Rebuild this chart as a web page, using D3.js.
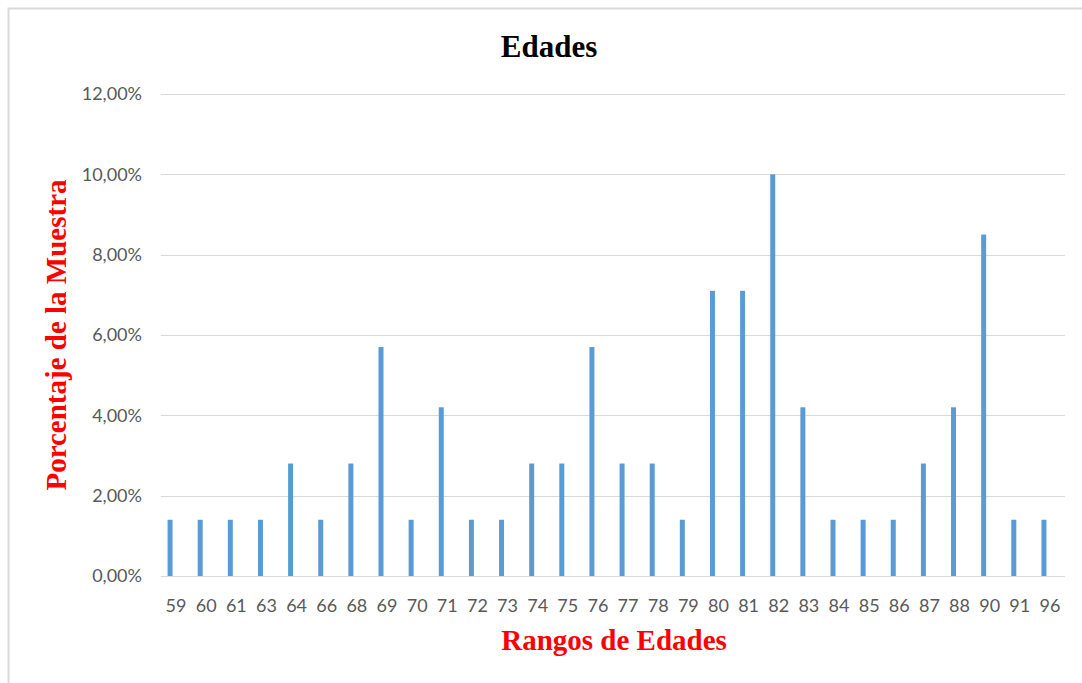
<!DOCTYPE html>
<html>
<head>
<meta charset="utf-8">
<script src="https://cdn.jsdelivr.net/npm/d3@7"></script>
<style>
  body { margin: 0; background: #fff; }
  .grid line { stroke: #d9d9d9; stroke-width: 1; }
  .tick-label { font-family: Lato, "Open Sans", sans-serif; font-size: 18px; fill: #595959; }
</style>
</head>
<body>
<div id="chart"></div>
<script>
var w = 1082, h = 683;

// Data
var categories = ["59","60","61","63","64","66","68","69","70","71","72","73","74","75","76",
	"77","78","79","80","81","82","83","84","85","86","87","88","90","91","96"];
var percentages = [1.4,1.4,1.4,1.4,2.8,1.4,2.8,5.7,1.4,4.2,1.4,1.4,2.8,2.8,5.7,
	2.8,2.8,1.4,7.1,7.1,10.0,4.2,1.4,1.4,1.4,2.8,4.2,8.5,1.4,1.4];
var yTicks = [0,2,4,6,8,10,12];

var margin = {left: 161, right: 17, top: 94, bottom: 107};

var svg = d3.select("#chart").append("svg")
	.attr("width", w)
	.attr("height", h);

// Chart frame
svg.append("rect")
	.attr("x", 8.5)
	.attr("y", 8.5)
	.attr("width", w)
	.attr("height", h)
	.attr("fill", "none")
	.attr("stroke", "#d9d9d9")
	.attr("stroke-width", 2);

// Scales
var x = d3.scaleBand()
	.domain(categories)
	.range([margin.left, w - margin.right]);

var y = d3.scaleLinear()
	.domain([0, 12])
	.range([h - margin.bottom, margin.top]);

// Gridlines
var grid = svg.append("g").attr("class", "grid");
grid.selectAll("line")
	.data(yTicks)
	.enter()
	.append("line")
		.attr("x1", margin.left)
		.attr("x2", w - margin.right)
		.attr("y1", function(d) { return Math.round(y(d)) + 0.5; })
		.attr("y2", function(d) { return Math.round(y(d)) + 0.5; });

// Y tick labels
svg.append("g").selectAll("text")
	.data(yTicks)
	.enter()
	.append("text")
		.attr("class", "tick-label")
		.attr("x", margin.left - 19)
		.attr("y", function(d) { return y(d); })
		.attr("dy", "0.35em")
		.attr("text-anchor", "end")
		.text(function(d) { return d3.format(".2f")(d).replace(".", ",") + "%"; });

// Bars (first of two series slots in each category)
var barW = 5;
svg.append("g").selectAll("rect")
	.data(percentages)
	.enter()
	.append("rect")
		.attr("x", function(d, i) { return x(categories[i]) + x.bandwidth() / 2 - 6 - barW / 2; })
		.attr("y", function(d) { return y(d); })
		.attr("width", barW)
		.attr("height", function(d) { return y(0) - y(d); })
		.attr("fill", "#5b9bd5");

// X tick labels
svg.append("g").selectAll("text")
	.data(categories)
	.enter()
	.append("text")
		.attr("class", "tick-label")
		.attr("x", function(d) { return x(d) + x.bandwidth() / 2; })
		.attr("y", y(0) + 36)
		.attr("text-anchor", "middle")
		.text(function(d) { return d; });

// Title
svg.append("text")
	.attr("x", 549)
	.attr("y", 57)
	.attr("text-anchor", "middle")
	.style("font-family", "'Liberation Serif', 'Times New Roman', serif")
	.style("font-weight", "bold")
	.style("font-size", "31px")
	.attr("fill", "#000")
	.text("Edades");

// Axis titles
svg.append("text")
	.attr("x", 614)
	.attr("y", 650)
	.attr("text-anchor", "middle")
	.style("font-family", "'Liberation Serif', 'Times New Roman', serif")
	.style("font-weight", "bold")
	.style("font-size", "29px")
	.attr("fill", "#ff0000")
	.text("Rangos de Edades");

svg.append("text")
	.attr("transform", "translate(66," + 335 + ") rotate(-90)")
	.attr("text-anchor", "middle")
	.style("font-family", "'Liberation Serif', 'Times New Roman', serif")
	.style("font-weight", "bold")
	.style("font-size", "29px")
	.attr("fill", "#ff0000")
	.text("Porcentaje de la Muestra");
</script>
</body>
</html>
